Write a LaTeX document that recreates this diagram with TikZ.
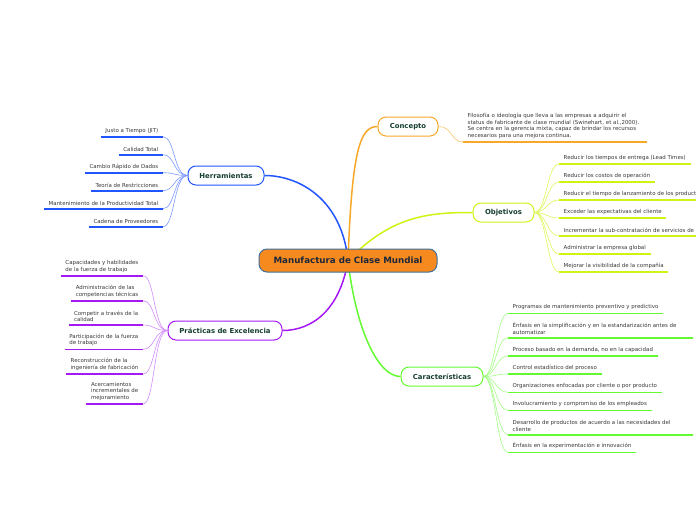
\documentclass[tikz,border=0pt]{standalone}
\usepackage{fontspec}
\setmainfont{DejaVu Sans}
\usepackage{xcolor}
\usepackage{tikz}
\usetikzlibrary{positioning, calc, backgrounds}
\definecolor{mcmorange}{RGB}{246, 138, 31}
\definecolor{mcmedge}{RGB}{62, 112, 160}
\definecolor{mcmtext}{RGB}{30, 40, 60}
\definecolor{subtext}{RGB}{22, 62, 46}
\definecolor{leaftext}{RGB}{55, 55, 55}
\definecolor{conorange}{RGB}{248, 168, 40}
\definecolor{objyellow}{RGB}{208, 242, 20}
\definecolor{cargreen}{RGB}{100, 250, 50}
\definecolor{herblue}{RGB}{35, 85, 255}
\definecolor{prapurple}{RGB}{165, 25, 245}

\begin{document}
\begin{tikzpicture}[
    x=1pt, y=-1pt,
    mainnode/.style={draw=mcmedge, line width=1pt, fill=mcmorange, rounded corners=8pt,
        minimum width=178pt, minimum height=23pt, inner sep=0pt,
        text=mcmtext, font=\fontsize{8.7}{10}\selectfont\bfseries},
    subnode/.style={draw=#1, line width=1pt, fill=white, rounded corners=8pt,
        minimum height=19pt, inner sep=0pt,
        text=subtext, font=\fontsize{6.9}{8}\selectfont\bfseries},
    leaf/.style={inner xsep=4.5pt, inner ysep=3pt, text=leaftext, align=left,
        font=\fontsize{5.45}{6.7}\selectfont},
    uline/.style={draw=#1, line width=1.6pt},
    link/.style={draw=#1, line width=1.5pt},
    twig/.style={draw=#1, line width=0.6pt},
]

% --- Canvas ---
\useasboundingbox (0,0) rectangle (696,520);
\clip (0,0) rectangle (696,520);

% --- Central topic and main branches ---
\node[mainnode] (mcm) at (348,260.5) {Manufactura de Clase Mundial};
\node[subnode=conorange, minimum width=60pt]  (con) at (408,126.5) {Concepto};
\node[subnode=objyellow, minimum width=61pt]  (obj) at (503.5,212.5) {Objetivos};
\node[subnode=cargreen, minimum width=82pt]   (car) at (442,376.5) {Características};
\node[subnode=herblue, minimum width=76pt]    (her) at (226,175.5) {Herramientas};
\node[subnode=prapurple, minimum width=114pt] (pra) at (225,330.5) {Prácticas de Excelencia};

\begin{scope}[on background layer]
\draw[link=conorange] (mcm.center) .. controls (352,150) and (360,126.5) .. (con.west);
\draw[link=objyellow] (mcm.center) .. controls (392,215) and (430,212.5) .. (obj.west);
\draw[link=cargreen]  (mcm.center) .. controls (356,330) and (378,376.5) .. (car.west);
\draw[link=herblue]   (mcm.center) .. controls (342,200) and (300,175.5) .. (her.east);
\draw[link=prapurple] (mcm.center) .. controls (340,310) and (312,330.5) .. (pra.east);
\end{scope}

% --- Concepto ---
\node[leaf, anchor=south west, text width=175pt] (con1) at (463,142) {Filosofía o ideología que lleva a las empresas a adquirir el\\status de fabricante de clase mundial (Swinehart, et al.,2000).\\Se centra en la gerencia mixta, capaz de brindar los recursos\\necesarios para una mejora continua.};
\draw[uline=conorange] (con1.south west) -- (con1.south east);
\draw[twig=conorange!70] (con.east) .. controls +(14,0) and +(-12,0) .. (con1.south west);

% --- Herramientas (right aligned, left side) ---
\foreach \txt [count=\i] in {Justo a Tiempo (JIT), Calidad Total, Cambio Rápido de Dados,
    Teoría de Restricciones, Mantenimiento de la Productividad Total, Cadena de Proveedores}{
  \node[leaf, anchor=south east] (her\i) at (163, 118.7+18*\i) {\txt};
  \draw[uline=herblue] (her\i.south west) -- (her\i.south east);
  \draw[twig=herblue!60] (her.west) .. controls +(-14,0) and +(12,0) .. (her\i.south east);
}

% --- Practicas de Excelencia ---
\foreach \yy/\txt [count=\i] in {275.7/{Capacidades y habilidades\\de la fuerza de trabajo},
    300.7/{Administración de las\\competencias técnicas},
    325/{Competir a través de la\\calidad},
    349.3/{Participación de la fuerza\\de trabajo},
    374/{Reconstrucción de la\\ingeniería de fabricación},
    404/{Acercamientos\\incrementales de\\mejoramiento}}{
  \node[leaf, anchor=south east] (pra\i) at (143, \yy) {\txt};
  \draw[uline=prapurple] (pra\i.south west) -- (pra\i.south east);
  \draw[twig=prapurple!50] (pra.west) .. controls +(-14,0) and +(12,0) .. (pra\i.south east);
}

% --- Objetivos ---
\foreach \txt [count=\i] in {Reducir los tiempos de entrega (Lead Times),
    Reducir los costos de operación,
    Reducir el tiempo de lanzamiento de los productos,
    Exceder las expectativas del cliente,
    Incrementar la sub-contratación de servicios de,
    Administrar la empresa global,
    Mejorar la visibilidad de la compañía}{
  \node[leaf, anchor=south west] (obj\i) at (559, 146+18*\i) {\txt};
  \draw[uline=objyellow] (obj\i.south west) -- (obj\i.south east);
  \draw[twig=objyellow!70] (obj.east) .. controls +(12,0) and +(-12,0) .. (obj\i.south west);
}
\draw[uline=objyellow] (obj5.south east) -- +(40,0);

% --- Caracteristicas ---
\foreach \yy/\txt [count=\i] in {313.3/{Programas de mantenimiento preventivo y predictivo},
    337.7/{Énfasis en la simplificación y en la estandarización antes de\\automatizar},
    356/{Proceso basado en la demanda, no en la capacidad},
    374/{Control estadístico del proceso},
    392.3/{Organizaciones enfocadas por cliente o por producto},
    410.3/{Involucramiento y compromiso de los empleados},
    434.7/{Desarrollo de productos de acuerdo a las necesidades del\\cliente},
    452.3/{Énfasis en la experimentación e innovación}}{
  \node[leaf, anchor=south west] (car\i) at (508, \yy) {\txt};
  \draw[uline=cargreen] (car\i.south west) -- (car\i.south east);
  \draw[twig=cargreen!60] (car.east) .. controls +(12,0) and +(-12,0) .. (car\i.south west);
}
\draw[uline=cargreen] (car2.south east) -- (693,337.7);
\draw[uline=cargreen] (car7.south east) -- (693,434.7);

\end{tikzpicture}
\end{document}
